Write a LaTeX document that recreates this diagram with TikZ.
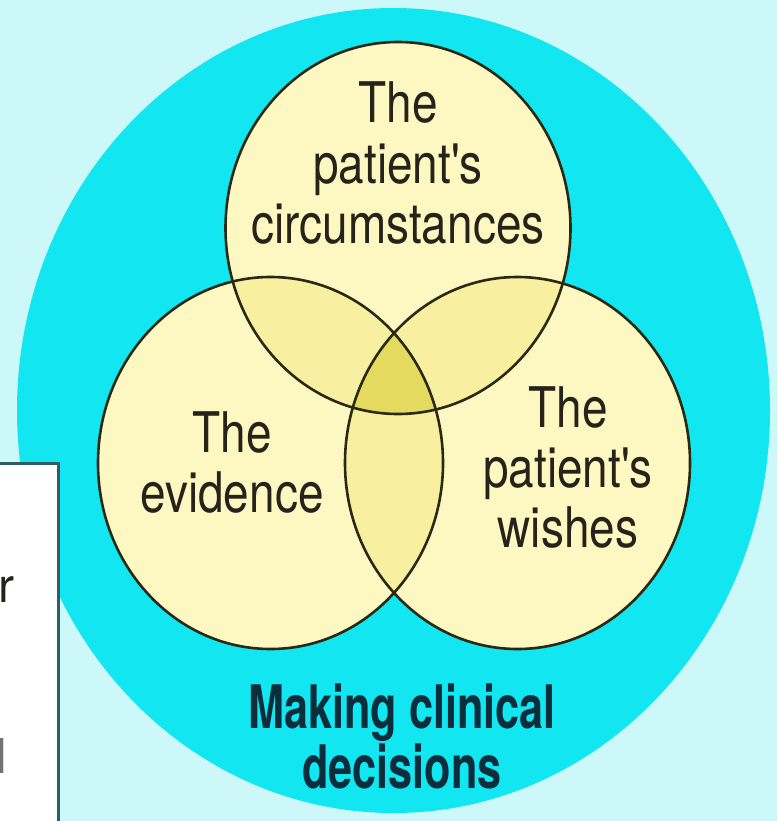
\documentclass[tikz,border=0pt]{standalone}
\usepackage{fontspec}
\setmainfont{TeX Gyre Heros}
\newfontfamily\condfont[FakeStretch=0.82]{TeX Gyre Heros}
\newfontfamily\condbold[FakeStretch=0.72]{TeX Gyre Heros}
\definecolor{bgcyan}{HTML}{CCF8FA}
\definecolor{bigcyan}{HTML}{12E6F0}
\definecolor{paleyel}{HTML}{FDF8C2}
\definecolor{pairyel}{HTML}{F8F0A0}
\definecolor{coreyel}{HTML}{E4DA60}
\definecolor{rimcol}{HTML}{2A2A14}
\definecolor{txtcol}{HTML}{26241A}
\definecolor{titlecol}{HTML}{0B2D3C}
\definecolor{boxrim}{HTML}{2E5E63}
\tikzset{
  rim/.style={draw=rimcol, line width=2.6pt},
  lbl/.style={font=\condfont\fontsize{56}{60}\selectfont, align=center, inner sep=0pt, text=txtcol, anchor=base},
  ttl/.style={font=\condbold\bfseries\fontsize{60}{60}\selectfont, align=center, inner sep=0pt, text=titlecol, anchor=base},
  boxtxt/.style={font=\fontsize{48}{50}\selectfont, inner sep=0pt, anchor=base east}
}
\begin{document}
\begin{tikzpicture}[x=1pt,y=-1pt]
  \clip (0,0) rectangle (777,821);
  \fill[bgcyan] (0,0) rectangle (777,821);
  % centres
  \coordinate (big) at (393.5,410.5);
  \coordinate (ctop) at (398,228);
  \coordinate (cleft) at (270.5,463);
  \coordinate (cright) at (517.5,463);
  % outer region
  \fill[bigcyan] (big) ellipse [x radius=376.5, y radius=402.5];
  % three sets
  \fill[paleyel] (ctop) ellipse [x radius=172.5, y radius=186];
  \fill[paleyel] (cleft) ellipse [x radius=172.5, y radius=186];
  \fill[paleyel] (cright) ellipse [x radius=172.5, y radius=186];
  % pairwise overlaps
  \begin{scope}
    \clip (ctop) ellipse [x radius=172.5, y radius=186];
    \fill[pairyel] (cleft) ellipse [x radius=172.5, y radius=186];
    \fill[pairyel] (cright) ellipse [x radius=172.5, y radius=186];
  \end{scope}
  \begin{scope}
    \clip (cleft) ellipse [x radius=172.5, y radius=186];
    \fill[pairyel] (cright) ellipse [x radius=172.5, y radius=186];
  \end{scope}
  % triple overlap
  \begin{scope}
    \clip (ctop) ellipse [x radius=172.5, y radius=186];
    \clip (cleft) ellipse [x radius=172.5, y radius=186];
    \fill[coreyel] (cright) ellipse [x radius=172.5, y radius=186];
  \end{scope}
  % outlines
  \draw[rim] (ctop) ellipse [x radius=172.5, y radius=186];
  \draw[rim] (cleft) ellipse [x radius=172.5, y radius=186];
  \draw[rim] (cright) ellipse [x radius=172.5, y radius=186];
  % labels (base = baseline of the last line)
  \node[lbl] (circ) at (398,243) {The\\patient's\\circumstances};
  \node[lbl] (evid) at (232,512) {The\\evidence};
  \node[lbl] (wish) at (568,547) {The\\patient's\\wishes};
  \node[ttl] (title) at (402,788) {Making clinical\\decisions};
  % partly hidden text box at the left
  \draw[boxrim, fill=white, line width=3pt] (-10,463) rectangle (58,840);
  \node[boxtxt, text=txtcol] (boxr) at (15,602) {r};
  \node[boxtxt, text=black!55] (boxl) at (7,773) {l};
\end{tikzpicture}
\end{document}
